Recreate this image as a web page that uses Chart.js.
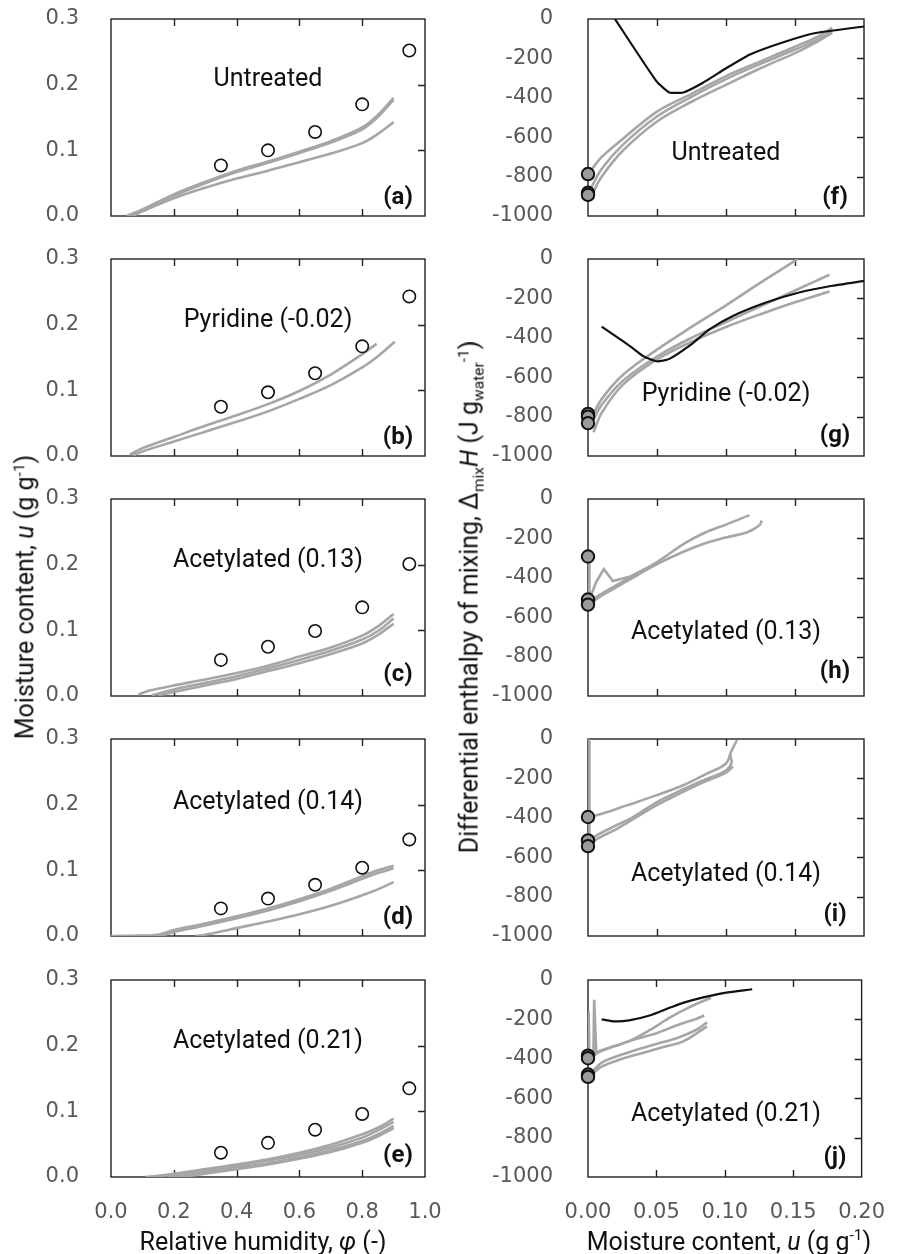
<!DOCTYPE html>
<html><head><meta charset="utf-8">
<script src="https://cdn.jsdelivr.net/npm/chart.js@4.4.1/dist/chart.umd.min.js"></script>
<style>
body{margin:0;background:#fff;width:900px;height:1254px;position:relative;overflow:hidden;font-family:Roboto,sans-serif;}
canvas{position:absolute;}
.t{position:absolute;font-family:Roboto,sans-serif;font-size:25px;color:#111;white-space:nowrap;transform:translate(-50%,-50%);line-height:1;}
.lab{font-weight:bold;font-size:24px;}
.rot{transform:translate(-50%,-50%) rotate(-90deg);}
sup,sub{font-size:62%;}
</style></head><body>
<script>
// ---------------- DATA ----------------
const PANEL_NAMES_LEFT = ['Untreated','Pyridine (-0.02)','Acetylated (0.13)','Acetylated (0.14)','Acetylated (0.21)'];
const PANEL_LETTERS_LEFT = ['(a)','(b)','(c)','(d)','(e)'];
const PANEL_LETTERS_RIGHT = ['(f)','(g)','(h)','(i)','(j)'];

const RH_TICKS = [0,0.2,0.4,0.6,0.8,1.0];
const U_TICKS = [0,0.1,0.2,0.3];
const UX_TICKS = [0,0.05,0.10,0.15,0.20];
const H_TICKS = [-1000,-800,-600,-400,-200,0];

// measured sorption (open circles)
const RH_MEAS = [0.35, 0.50, 0.65, 0.80, 0.95];
const U_MEAS_A = [0.077, 0.100, 0.128, 0.170, 0.252];
const U_MEAS_B = [0.075, 0.097, 0.126, 0.167, 0.243];
const U_MEAS_C = [0.055, 0.075, 0.099, 0.135, 0.201];
const U_MEAS_D = [0.042, 0.057, 0.078, 0.104, 0.147];
const U_MEAS_E = [0.037, 0.052, 0.072, 0.096, 0.135];

// calorimetric sorption isotherms (grey) [RH, u]
const ISO_A1 = [[0.05,0.0],[0.1,0.010],[0.2,0.033],[0.3,0.052],[0.4,0.069],[0.5,0.083],[0.6,0.098],[0.7,0.114],[0.8,0.135],[0.85,0.154],[0.9,0.180]];
const ISO_A2 = [[0.055,0.0],[0.1,0.009],[0.2,0.031],[0.3,0.050],[0.4,0.067],[0.5,0.081],[0.6,0.096],[0.7,0.112],[0.8,0.132],[0.85,0.151],[0.9,0.177]];
const ISO_A3 = [[0.07,0.0],[0.1,0.007],[0.2,0.027],[0.3,0.043],[0.4,0.057],[0.5,0.069],[0.6,0.082],[0.7,0.095],[0.8,0.111],[0.85,0.125],[0.9,0.143]];
const ISO_B1 = [[0.06,0.002],[0.1,0.012],[0.2,0.029],[0.3,0.046],[0.4,0.062],[0.5,0.079],[0.6,0.099],[0.7,0.124],[0.8,0.155],[0.846,0.171]];
const ISO_B2 = [[0.07,0.001],[0.1,0.007],[0.2,0.022],[0.3,0.037],[0.4,0.052],[0.5,0.068],[0.6,0.087],[0.7,0.108],[0.8,0.135],[0.85,0.152],[0.904,0.174]];
const ISO_C1 = [[0.087,0.002],[0.12,0.008],[0.2,0.016],[0.3,0.025],[0.4,0.035],[0.5,0.046],[0.6,0.060],[0.7,0.074],[0.8,0.092],[0.85,0.106],[0.9,0.125]];
const ISO_C2 = [[0.13,0.001],[0.2,0.010],[0.3,0.020],[0.4,0.030],[0.5,0.042],[0.6,0.055],[0.7,0.069],[0.8,0.086],[0.85,0.099],[0.9,0.118]];
const ISO_C3 = [[0.15,0.001],[0.2,0.006],[0.3,0.016],[0.4,0.026],[0.5,0.038],[0.6,0.050],[0.7,0.064],[0.8,0.080],[0.85,0.093],[0.9,0.110]];
const ISO_D1 = [[0.0,0.0],[0.1,0.0005],[0.15,0.002],[0.2,0.009],[0.3,0.019],[0.4,0.030],[0.5,0.042],[0.6,0.056],[0.7,0.072],[0.8,0.091],[0.85,0.100],[0.9,0.107]];
const ISO_D2 = [[0.02,0.0],[0.1,0.0],[0.17,0.002],[0.2,0.006],[0.3,0.016],[0.4,0.027],[0.5,0.039],[0.6,0.053],[0.7,0.069],[0.8,0.087],[0.85,0.096],[0.9,0.103]];
const ISO_D3 = [[0.27,0.0],[0.3,0.002],[0.4,0.012],[0.5,0.022],[0.6,0.033],[0.7,0.046],[0.8,0.062],[0.85,0.071],[0.9,0.082]];
const ISO_E1 = [[0.11,0.0],[0.15,0.002],[0.2,0.005],[0.3,0.012],[0.4,0.019],[0.5,0.027],[0.6,0.037],[0.7,0.049],[0.8,0.065],[0.85,0.075],[0.9,0.089]];
const ISO_E2 = [[0.13,0.0],[0.2,0.004],[0.3,0.010],[0.4,0.017],[0.5,0.025],[0.6,0.034],[0.7,0.045],[0.8,0.060],[0.85,0.071],[0.9,0.084]];
const ISO_E3 = [[0.18,0.0],[0.25,0.004],[0.3,0.007],[0.4,0.014],[0.5,0.021],[0.6,0.030],[0.7,0.041],[0.8,0.055],[0.85,0.065],[0.9,0.078]];
const ISO_E4 = [[0.22,0.0],[0.3,0.005],[0.4,0.012],[0.5,0.019],[0.6,0.028],[0.7,0.038],[0.8,0.052],[0.85,0.062],[0.9,0.074]];

// enthalpy of mixing at u = 0 (grey filled circles)
const H0_F = [-787, -882, -893];
const H0_G = [-786, -800, -833];
const H0_H = [-292, -510, -536];
const H0_I = [-396, -515, -544];
const H0_J = [-384, -397, -480, -492];

// calculated enthalpy (black lines) [u, H]
const CALC_F = [[0.0195,0],[0.0497,-317],[0.059,-373],[0.069,-373],[0.083,-325],[0.1003,-249],[0.117,-181],[0.141,-119],[0.165,-71],[0.2,-38]];
const CALC_G = [[0.0099,-343],[0.0304,-442],[0.040,-493],[0.0497,-519],[0.059,-507],[0.0738,-439],[0.088,-357],[0.105,-289],[0.129,-221],[0.153,-170],[0.177,-136],[0.2,-111]];
const CALC_J = [[0.01,-200],[0.02,-210],[0.03,-205],[0.045,-180],[0.06,-140],[0.07,-115],[0.085,-87],[0.1,-65],[0.12,-47]];

// measured enthalpy (grey lines) [u, H]
const ENT_F1 = [[0.002,-770],[0.01,-700],[0.025,-610],[0.05,-470],[0.075,-380],[0.1,-290],[0.125,-215],[0.15,-140],[0.165,-95],[0.177,-45]];
const ENT_F2 = [[0.002,-860],[0.01,-760],[0.025,-640],[0.05,-495],[0.075,-395],[0.1,-305],[0.125,-228],[0.15,-155],[0.165,-110],[0.177,-60]];
const ENT_F3 = [[0.003,-890],[0.01,-800],[0.025,-670],[0.05,-520],[0.075,-420],[0.1,-334],[0.125,-250],[0.15,-173],[0.165,-120],[0.177,-70]];
const ENT_G1 = [[0.003,-800],[0.01,-710],[0.025,-590],[0.05,-460],[0.075,-345],[0.1,-235],[0.125,-120],[0.152,0]];
const ENT_G2 = [[0.003,-830],[0.01,-740],[0.025,-620],[0.05,-495],[0.075,-400],[0.1,-320],[0.125,-240],[0.15,-160],[0.175,-80]];
const ENT_G3 = [[0.004,-880],[0.01,-780],[0.025,-640],[0.05,-510],[0.075,-420],[0.1,-345],[0.125,-280],[0.15,-220],[0.175,-165]];
const ENT_H1 = [[0.001,-520],[0.01,-480],[0.02,-440],[0.035,-380],[0.05,-320],[0.07,-225],[0.085,-170],[0.1,-130],[0.117,-82]];
const ENT_H2 = [[0.001,-536],[0.01,-490],[0.02,-450],[0.035,-390],[0.05,-330],[0.07,-265],[0.085,-225],[0.1,-195],[0.115,-170],[0.124,-135],[0.126,-110]];
const ENT_H3 = [[0.001,-292],[0.001,-510],[0.006,-420],[0.0115,-356],[0.018,-416],[0.03,-395],[0.05,-325]];
const ENT_I1 = [[0.001,-396],[0.01,-380],[0.028,-337],[0.05,-285],[0.069,-235],[0.085,-180],[0.1,-124],[0.104,-60],[0.108,-5]];
const ENT_I2 = [[0.001,-515],[0.006,-490],[0.02,-440],[0.033,-395],[0.05,-320],[0.069,-255],[0.085,-205],[0.1,-160],[0.104,-120],[0.103,-80]];
const ENT_I3 = [[0.001,-544],[0.006,-510],[0.02,-460],[0.033,-405],[0.05,-335],[0.069,-268],[0.085,-215],[0.1,-170],[0.105,-140]];
const ENT_I4 = [[0.001,0],[0.001,-520]];
const ENT_J1 = [[0.004,-370],[0.015,-345],[0.03,-310],[0.045,-255],[0.06,-190],[0.075,-135],[0.09,-90]];
const ENT_J2 = [[0.001,-397],[0.01,-360],[0.02,-335],[0.035,-300],[0.05,-270],[0.065,-230],[0.08,-195],[0.085,-180]];
const ENT_J3 = [[0.001,-480],[0.01,-420],[0.02,-390],[0.035,-355],[0.05,-325],[0.065,-295],[0.08,-250],[0.087,-215]];
const ENT_J4 = [[0.001,-492],[0.01,-440],[0.025,-400],[0.04,-370],[0.055,-340],[0.07,-310],[0.087,-235]];
const ENT_J5 = [[0.004,-370],[0.0045,-100],[0.006,-360]];
const ENT_J6 = [[0.0005,-160],[0.001,-400]];

// ---------------- LAYOUT ----------------
const ROW_TOPS = [19, 259, 499, 739, 980];
const BOX_H = 197;
const PAD_T = 44;
const GREY = '#a6a6a6';
const TICK_FONT = {family:'"DejaVu Sans", sans-serif', size:21};
const TICK_COLOR = '#595959';

const framePlugin = {
  id:'frame',
  beforeDatasetsDraw(chart){
    const {ctx, chartArea:a} = chart;
    const x = chart.scales.x, y = chart.scales.y;
    ctx.save();
    ctx.strokeStyle = '#222'; ctx.lineWidth = 1.4;
    ctx.strokeRect(a.left, a.top, a.right-a.left, a.bottom-a.top);
    const L = 7;
    ctx.beginPath();
    x.ticks.forEach(t=>{
      const px = Math.round(x.getPixelForValue(t.value))+0.5;
      if (px <= a.left+2 || px >= a.right-2) return;
      ctx.moveTo(px,a.top); ctx.lineTo(px,a.top+L);
      ctx.moveTo(px,a.bottom); ctx.lineTo(px,a.bottom-L);
    });
    y.ticks.forEach(t=>{
      const py = Math.round(y.getPixelForValue(t.value))+0.5;
      if (py <= a.top+2 || py >= a.bottom-2) return;
      ctx.moveTo(a.right,py); ctx.lineTo(a.right-L,py);
    });
    ctx.stroke();
    ctx.restore();
  }
};

const toXY = arr => arr.map(p=>({x:p[0], y:p[1]}));
const greyLine = (arr, tension=0.35) => ({data:toXY(arr), showLine:true, borderColor:GREY, borderWidth:2.6, pointRadius:0, tension, fill:false});
const blackLine = (arr, tension=0.3) => ({data:toXY(arr), showLine:true, borderColor:'#111', borderWidth:2.2, pointRadius:0, tension, fill:false});

function makeChart(opts){
  const c = document.createElement('canvas');
  c.width = opts.w; c.height = opts.h;
  c.style.left = opts.left+'px'; c.style.top = opts.top+'px';
  c.style.width = opts.w+'px'; c.style.height = opts.h+'px';
  document.body.appendChild(c);
  new Chart(c, {
    type:'scatter',
    data:{datasets:opts.datasets},
    options:{
      responsive:false, animation:false, events:[], devicePixelRatio:1,
      layout:{padding:{top:PAD_T, right:opts.padRight, bottom:0, left:0}},
      plugins:{legend:{display:false}, tooltip:{enabled:false}},
      scales:{
        x:{type:'linear', min:opts.xmin, max:opts.xmax,
           afterFit:s=>{s.height = opts.xh;},
           afterBuildTicks:s=>{s.ticks = opts.xticks.map(v=>({value:v}));},
           grid:{display:false}, border:{display:false},
           ticks:{display:opts.showX, padding:15, maxRotation:0, font:TICK_FONT, color:TICK_COLOR,
                  callback:v=>Number(v).toFixed(opts.xdec)}},
        y:{type:'linear', min:opts.ymin, max:opts.ymax,
           afterFit:s=>{s.width = opts.yw;},
           afterBuildTicks:s=>{s.ticks = opts.yticks.map(v=>({value:v}));},
           grid:{display:false}, border:{display:false},
           ticks:{padding:opts.ypad, font:TICK_FONT, color:TICK_COLOR,
                  callback:v=>Number(v).toFixed(opts.ydec)}}
      }
    },
    plugins:[framePlugin]
  });
}

const openCircles = u => ({data:RH_MEAS.map((r,i)=>({x:r,y:u[i]})), showLine:false, pointRadius:6.2,
  pointBorderColor:'#111', pointBackgroundColor:'#fff', pointBorderWidth:1.6, clip:false});
const dryCircles = h => ({data:h.map(v=>({x:0,y:v})), showLine:false, pointRadius:6.2,
  pointBorderColor:'#111', pointBackgroundColor:'#9b9b9b', pointBorderWidth:2, clip:false});

const LEFT_SETS = [
  [openCircles(U_MEAS_A), greyLine(ISO_A1), greyLine(ISO_A2), greyLine(ISO_A3)],
  [openCircles(U_MEAS_B), greyLine(ISO_B1), greyLine(ISO_B2)],
  [openCircles(U_MEAS_C), greyLine(ISO_C1), greyLine(ISO_C2), greyLine(ISO_C3)],
  [openCircles(U_MEAS_D), greyLine(ISO_D1), greyLine(ISO_D2), greyLine(ISO_D3)],
  [openCircles(U_MEAS_E), greyLine(ISO_E1), greyLine(ISO_E2), greyLine(ISO_E3), greyLine(ISO_E4)]
];
const RIGHT_SETS = [
  [dryCircles(H0_F), blackLine(CALC_F, 0.15), greyLine(ENT_F1), greyLine(ENT_F2), greyLine(ENT_F3)],
  [dryCircles(H0_G), blackLine(CALC_G, 0.2), greyLine(ENT_G1), greyLine(ENT_G2), greyLine(ENT_G3)],
  [dryCircles(H0_H), greyLine(ENT_H1), greyLine(ENT_H2), greyLine(ENT_H3,0)],
  [dryCircles(H0_I), greyLine(ENT_I1), greyLine(ENT_I2), greyLine(ENT_I3), greyLine(ENT_I4,0)],
  [dryCircles(H0_J), blackLine(CALC_J), greyLine(ENT_J1), greyLine(ENT_J2), greyLine(ENT_J3), greyLine(ENT_J4), greyLine(ENT_J5,0), greyLine(ENT_J6,0)]
];

ROW_TOPS.forEach((top,i)=>{
  const last = i===4;
  const xh = last ? 60 : 44;
  makeChart({left:0, top:top-PAD_T, w:460, h:BOX_H+PAD_T+xh, padRight:35, yw:111, ypad:24, xh,
    xmin:0, xmax:1, ymin:0, ymax:0.3, xticks:RH_TICKS, yticks:U_TICKS, xdec:1, ydec:1, showX:last,
    datasets:LEFT_SETS[i]});
  makeChart({left:490, top:top-PAD_T, w:410, h:BOX_H+PAD_T+xh, padRight:36, yw:98, ypad:27, xh,
    xmin:0, xmax:0.2, ymin:-1000, ymax:0, xticks:UX_TICKS, yticks:H_TICKS, xdec:2, ydec:0, showX:last,
    datasets:RIGHT_SETS[i]});
});

// ---------------- TEXT ----------------
function addText(html, x, y, cls){
  const d = document.createElement('div');
  d.className = 't' + (cls ? ' '+cls : '');
  d.innerHTML = html;
  d.style.left = x+'px'; d.style.top = y+'px';
  document.body.appendChild(d);
}
const LEFT_NAME_Y = [77, 318, 558, 800, 1039];
const RIGHT_NAME_Y = [151, 392, 630, 872, 1112];
const LEFT_LAB_Y = [196, 436, 673, 916, 1154];
const RIGHT_LAB_Y = [196, 434, 670, 913, 1156];
PANEL_NAMES_LEFT.forEach((n,i)=>{
  addText(n, 268, LEFT_NAME_Y[i]);
  addText(n, 726, RIGHT_NAME_Y[i]);
  addText(PANEL_LETTERS_LEFT[i], 398, LEFT_LAB_Y[i], 'lab');
  addText(PANEL_LETTERS_RIGHT[i], 835, RIGHT_LAB_Y[i], 'lab');
});
addText('Moisture content, <i>u</i> (g g<sup>-1</sup>)', 25, 597, 'rot');
addText('Differential enthalpy of mixing, Δ<sub>mix</sub><i>H</i> (J g<sub>water</sub><sup>-1</sup>)', 472, 597, 'rot');
addText('Relative humidity, <i>φ</i> (-)', 263, 1241);
addText('Moisture content, <i>u</i> (g g<sup>-1</sup>)', 729, 1241);
</script>
</body></html>
